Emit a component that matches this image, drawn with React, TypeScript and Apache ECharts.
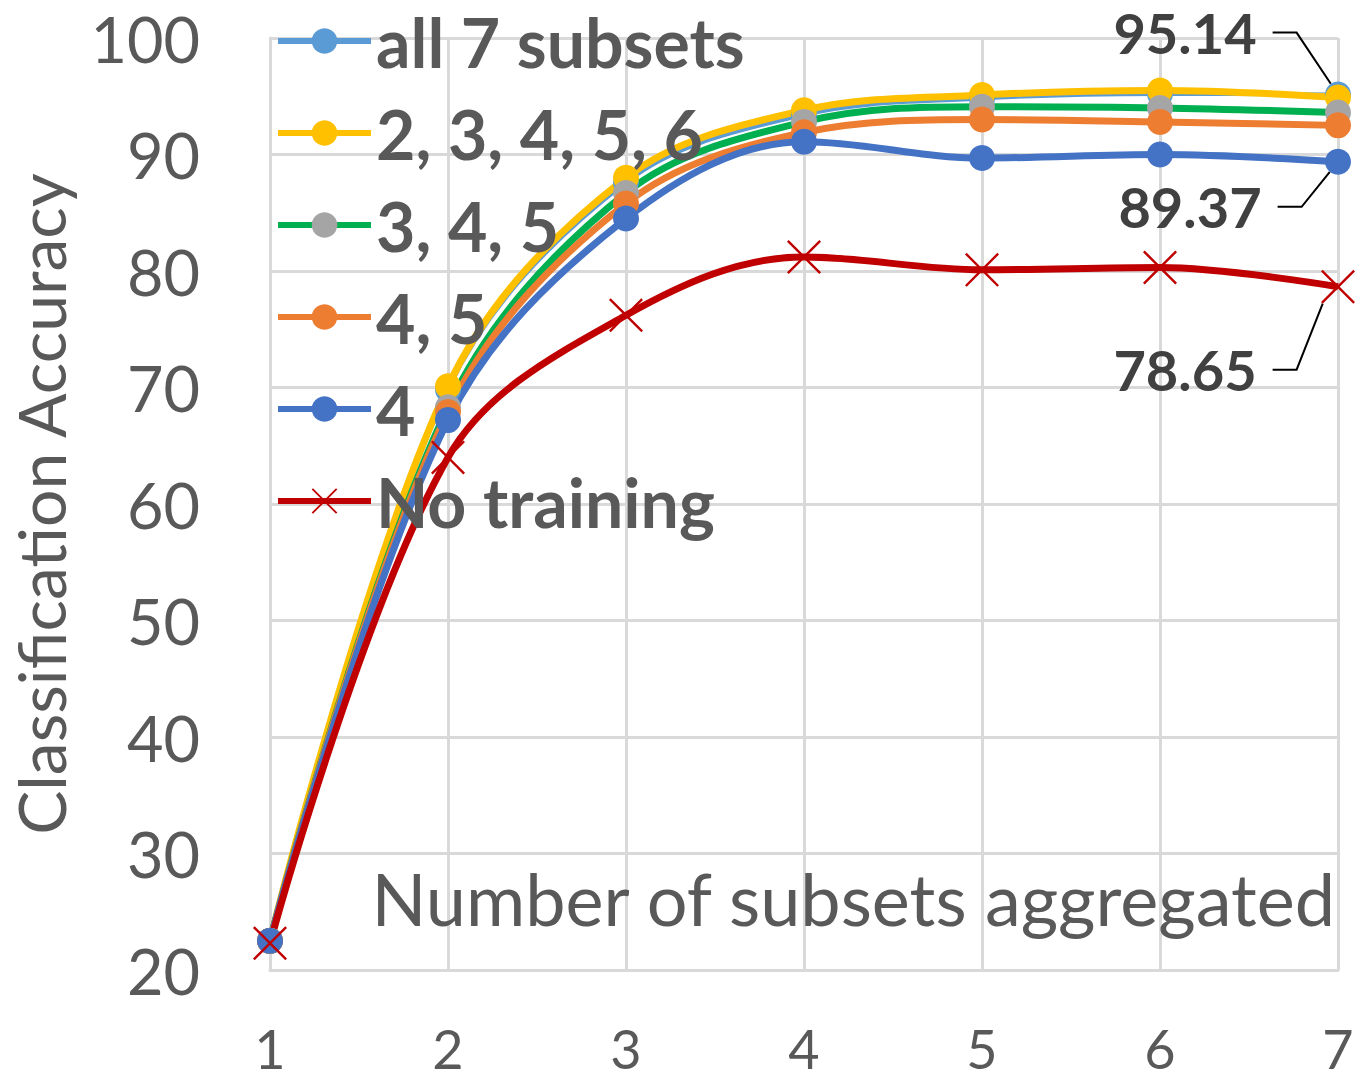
import React, { useEffect, useRef } from "react";
import * as echarts from "echarts";

const categories = ["1", "2", "3", "4", "5", "6", "7"];
const seriesNames = ["all 7 subsets", "2, 3, 4, 5, 6", "3, 4, 5", "4, 5", "4", "No training"];
const all7 = [22.5, 69.8, 87.6, 93.4, 94.8, 95.2, 95.14];
const s23456 = [22.5, 70.1, 88.0, 93.8, 95.1, 95.5, 94.9];
const s345 = [22.5, 68.3, 86.7, 92.8, 94.1, 94.0, 93.6];
const s45 = [22.5, 67.9, 85.8, 91.9, 93.0, 92.8, 92.5];
const s4 = [22.5, 67.2, 84.5, 91.1, 89.7, 90.0, 89.37];
const noTraining = [22.3, 64.0, 76.2, 81.2, 80.1, 80.3, 78.65];
const yTicks = { min: 20, max: 100, interval: 10 };

const FONT = "Lato";
const TEXT = "#595959";
const GRID = "#D9D9D9";
const XMARK =
  "path://M0,5 L5,0 L50,45 L95,0 L100,5 L55,50 L100,95 L95,100 L50,55 L5,100 L0,95 L45,50 Z";

function withLastLabel(values: number[], show: boolean) {
  return values.map((v, i) =>
    show && i === values.length - 1
      ? { value: v, label: { show: true, formatter: String(v) } }
      : v
  );
}

export default function App() {
  const ref = useRef<HTMLDivElement>(null);
  useEffect(() => {
    if (!ref.current) return;
    const chart = echarts.init(ref.current, null, { renderer: "svg" });
    const labelStyle = {
      show: false,
      position: "inside",
      fontFamily: FONT,
      fontWeight: "bold",
      fontSize: 56,
      color: "#404040",
      padding: [0, 16, 0, 0],
      backgroundColor: "rgba(255,255,255,0)",
    };
    const labelLine = { show: true, length2: 24, lineStyle: { color: "#000", width: 2 } };
    const mk = (
      name: string,
      data: number[],
      lineColor: string,
      markerColor: string,
      width: number,
      symbol: string,
      symbolSize: number,
      showLabel: boolean,
      dx: number,
      dy: number
    ) => ({
      name,
      type: "line",
      data: withLastLabel(data, showLabel),
      smooth: 0.35,
      symbol,
      symbolSize,
      showAllSymbol: true,
      lineStyle: { color: lineColor, width },
      itemStyle: { color: markerColor },
      label: labelStyle,
      labelLine,
      labelLayout: { dx, dy },
      emphasis: { disabled: true },
    });
    chart.setOption({
      animation: false,
      grid: { left: 270, right: 22, top: 38, bottom: 109, outerBoundsMode: "none", containLabel: false },
      legend: {
        orient: "vertical",
        left: 275,
        top: 6,
        padding: 0,
        itemWidth: 93,
        itemHeight: 32,
        itemGap: 22,
        lineStyle: { width: 6 },
        textStyle: { fontFamily: FONT, fontWeight: "bold", fontSize: 68, lineHeight: 70, color: TEXT },
        data: seriesNames,
      },
      xAxis: {
        type: "category",
        data: categories,
        boundaryGap: false,
        axisTick: { show: false },
        axisLine: { lineStyle: { color: GRID, width: 3 } },
        splitLine: { show: true, lineStyle: { color: GRID, width: 3 } },
        axisLabel: { fontFamily: FONT, fontSize: 54, lineHeight: 42, color: TEXT, margin: 57 },
        name: "Number of subsets aggregated",
        nameLocation: "end",
        nameGap: -3,
        nameTextStyle: {
          fontFamily: FONT,
          fontSize: 72,
          color: TEXT,
          align: "right",
          verticalAlign: "bottom",
          padding: [0, 0, 36, 0],
        },
      },
      yAxis: {
        type: "value",
        min: yTicks.min,
        max: yTicks.max,
        interval: yTicks.interval,
        axisTick: { show: false },
        axisLine: { show: true, lineStyle: { color: GRID, width: 3 } },
        splitLine: { show: true, lineStyle: { color: GRID, width: 3 } },
        axisLabel: { fontFamily: FONT, fontSize: 63, color: TEXT, margin: 70 },
        name: "Classification Accuracy",
        nameLocation: "middle",
        nameRotate: 90,
        nameGap: 230,
        nameTextStyle: { fontFamily: FONT, fontSize: 66, lineHeight: 56, color: TEXT, verticalAlign: "middle" },
      },
      series: [
        mk(seriesNames[0], all7, "#5B9BD5", "#5B9BD5", 4, "circle", 26, true, -145, -62),
        mk(seriesNames[1], s23456, "#FFC000", "#FFC000", 7, "circle", 26, false, 0, 0),
        mk(seriesNames[2], s345, "#00B050", "#A5A5A5", 7, "circle", 26, false, 0, 0),
        mk(seriesNames[3], s45, "#ED7D31", "#ED7D31", 7, "circle", 26, false, 0, 0),
        mk(seriesNames[4], s4, "#4472C4", "#4472C4", 7, "circle", 26, true, -140, 45),
        mk(seriesNames[5], noTraining, "#C00000", "#C00000", 7, XMARK, 34, true, -145, 83),
      ],
    });
    return () => chart.dispose();
  }, []);
  return (
    <div
      ref={ref}
      style={{ position: "fixed", left: 0, top: 0, width: 1360, height: 1079, background: "#fff" }}
    />
  );
}
